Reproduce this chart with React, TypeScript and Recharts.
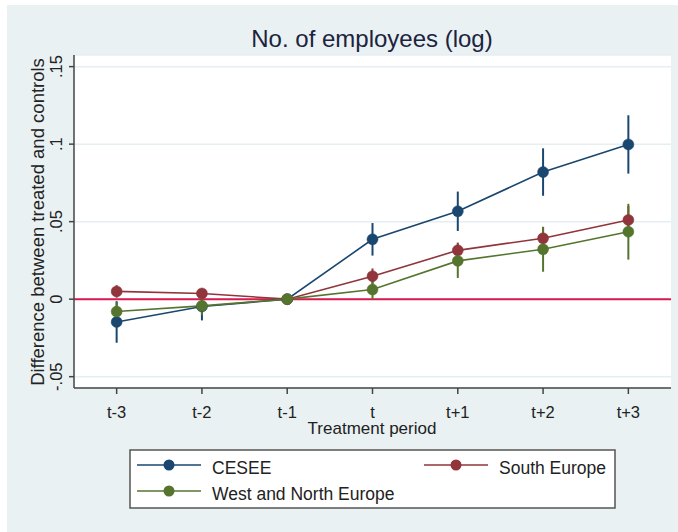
import {
  CartesianGrid,
  ErrorBar,
  Line,
  LineChart,
  ReferenceLine,
  XAxis,
  YAxis,
} from 'recharts'

const periods = [-3, -2, -1, 0, 1, 2, 3]
const periodLabels = ['t-3', 't-2', 't-1', 't', 't+1', 't+2', 't+3']

const cesee = [-0.0147, -0.0047, 0, 0.0386, 0.0567, 0.082, 0.0998]
const ceseeCi = [0.0134, 0.009, 0, 0.0105, 0.0127, 0.0153, 0.0188]
const south = [0.005, 0.0037, 0, 0.0148, 0.0315, 0.0393, 0.0511]
const southCi = [0.004, 0.003, 0, 0.005, 0.005, 0.007, 0.009]
const westNorth = [-0.008, -0.0043, 0, 0.0062, 0.0247, 0.0322, 0.0435]
const westNorthCi = [0.006, 0.006, 0, 0.0065, 0.011, 0.0145, 0.018]

const yTicks = [-0.05, 0, 0.05, 0.1, 0.15]

const seriesNames = ['CESEE', 'South Europe', 'West and North Europe']
const seriesKeys = ['cesee', 'south', 'westNorth']
const seriesColors = ['#1a476f', '#90353b', '#55752f']

const data = periods.map((p, i) => ({
  period: p,
  cesee: cesee[i],
  ceseeErr: ceseeCi[i],
  south: south[i],
  southErr: southCi[i],
  westNorth: westNorth[i],
  westNorthErr: westNorthCi[i],
}))

const FONT = '"Liberation Sans", Arial, sans-serif'
const W = 671
const H = 527

// stata style number format: .05, 0, -.05
const fmtY = (v: number) => {
  if (v === 0) return '0'
  const s = String(Math.round(v * 100) / 100)
  return s.replace('0.', '.')
}

const YTick = (props: any) => {
  const { x, y, payload } = props
  return (
    <text
      x={x}
      y={y}
      transform={`rotate(-90 ${x} ${y})`}
      textAnchor="middle"
      fontSize={16.5}
      fontFamily={FONT}
      fill="#222"
    >
      {fmtY(payload.value)}
    </text>
  )
}

export default function App() {
  return (
    <div
      style={{
        position: 'absolute',
        left: 7,
        top: 5,
        width: W,
        height: H,
        background: '#e9f1f2',
        fontFamily: FONT,
      }}
    >
      <LineChart
        width={W}
        height={H}
        data={data}
        margin={{ top: 50, right: 7, bottom: 114, left: 22 }}
      >
        <CartesianGrid vertical={false} fill="#ffffff" stroke="#e6eef2" strokeWidth={1.5} />
        <XAxis
          type="number"
          dataKey="period"
          domain={[-3.5, 3.5]}
          ticks={periods}
          tickFormatter={(v) => periodLabels[periods.indexOf(v)]}
          height={30}
          tickSize={6}
          tickMargin={12}
          stroke="#444"
          strokeWidth={1.5}
          tick={{ fontSize: 16.5, fill: '#222', fontFamily: FONT }}
        />
        <YAxis
          type="number"
          domain={[-0.0573, 0.1575]}
          ticks={yTicks}
          allowDataOverflow
          width={45}
          tickSize={5}
          tickMargin={7}
          stroke="#444"
          strokeWidth={1.5}
          tick={YTick}
        />
        <ReferenceLine y={0} stroke="#d9194f" strokeWidth={2} />
        {seriesKeys.map((k, i) => (
          <Line
            key={k}
            type="linear"
            dataKey={k}
            stroke={seriesColors[i]}
            strokeWidth={1.6}
            dot={{ r: 5.5, fill: seriesColors[i], stroke: seriesColors[i], strokeWidth: 0.5 }}
            activeDot={false}
            isAnimationActive={false}
          >
            <ErrorBar
              dataKey={`${k}Err`}
              width={0}
              stroke={seriesColors[i]}
              strokeWidth={2}
              direction="y"
              isAnimationActive={false}
            />
          </Line>
        ))}
      </LineChart>
      <svg
        width={W}
        height={H}
        style={{ position: 'absolute', left: 0, top: 0, pointerEvents: 'none' }}
        fontFamily={FONT}
      >
        <text x={365} y={42} textAnchor="middle" fontSize={24} fill="#1c2340">
          No. of employees (log)
        </text>
        <text
          x={37}
          y={217}
          transform="rotate(-90 37 217)"
          textAnchor="middle"
          fontSize={18.5}
          fill="#222"
        >
          Difference between treated and controls
        </text>
        <text x={365} y={429} textAnchor="middle" fontSize={17} fill="#222">
          Treatment period
        </text>
        <rect x={123} y={445} width={485} height={58} fill="#ffffff" stroke="#555" strokeWidth={1.5} />
        {seriesNames.map((name, i) => {
          const col = i === 1 ? 1 : 0
          const row = i === 2 ? 1 : 0
          const lx = 130 + col * 287
          const ly = 460 + row * 26
          return (
            <g key={name}>
              <line x1={lx} x2={lx + 64} y1={ly} y2={ly} stroke={seriesColors[i]} strokeWidth={1.6} />
              <circle cx={lx + 32} cy={ly} r={5.5} fill={seriesColors[i]} />
              <text x={lx + 75} y={ly + 9} fontSize={17.5} fill="#222">
                {name}
              </text>
            </g>
          )
        })}
      </svg>
    </div>
  )
}
